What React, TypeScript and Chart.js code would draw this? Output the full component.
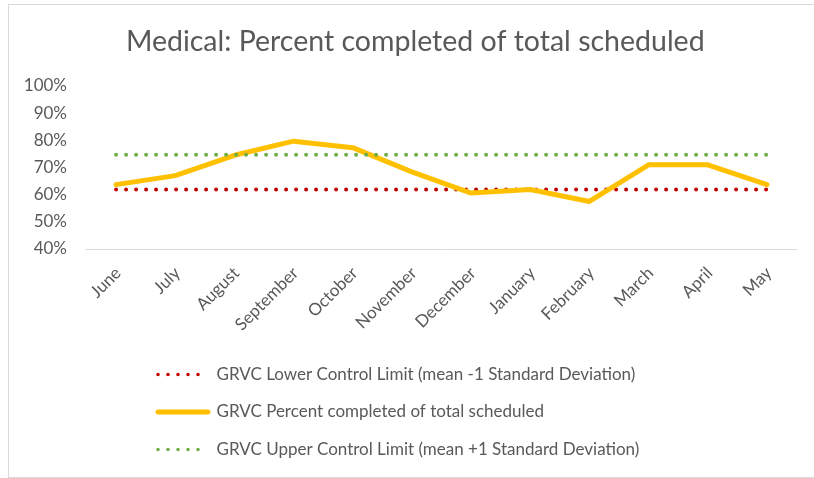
import React, { useEffect, useRef } from "react";
import { Chart, registerables } from "chart.js";

Chart.register(...registerables);

const months = ["June", "July", "August", "September", "October", "November", "December", "January", "February", "March", "April", "May"];
const percentCompleted = [63.7, 67, 74.5, 79.7, 77.3, 68.4, 60.6, 61.9, 57.5, 71, 71, 63.7];
const lowerLimit = [61.9, 61.9, 61.9, 61.9, 61.9, 61.9, 61.9, 61.9, 61.9, 61.9, 61.9, 61.9];
const upperLimit = [74.7, 74.7, 74.7, 74.7, 74.7, 74.7, 74.7, 74.7, 74.7, 74.7, 74.7, 74.7];
const seriesLabels = [
  "GRVC Lower Control Limit (mean -1 Standard Deviation)",
  "GRVC Percent completed of total scheduled",
  "GRVC Upper Control Limit (mean +1 Standard Deviation)",
];
const titleText = "Medical: Percent completed of total scheduled";
const yMin = 40;
const yMax = 100;
const yStep = 10;

const TEXT = "#595959";
const LEGEND_PAD = 20.5;
const LEGEND_X = 158;
const TITLE_SHIFT = 13;

const layoutShift = {
  id: "layoutShift",
  afterLayout(chart: any) {
    if (chart.legend) {
      chart.legend.left = LEGEND_X - LEGEND_PAD;
    }
    if (chart.titleBlock) {
      chart.titleBlock.left += TITLE_SHIFT;
      chart.titleBlock.right += TITLE_SHIFT;
    }
  },
};

export default function App() {
  const ref = useRef<HTMLCanvasElement | null>(null);

  useEffect(() => {
    if (!ref.current) return;
    const chart = new Chart(ref.current, {
      type: "line",
      data: {
        labels: months,
        datasets: [
          {
            label: seriesLabels[0],
            data: lowerLimit,
            borderColor: "#C00000",
            backgroundColor: "#C00000",
            borderWidth: 4,
            borderDash: [0, 10],
            borderCapStyle: "round",
            pointRadius: 0,
            order: 2,
          },
          {
            label: seriesLabels[1],
            data: percentCompleted,
            borderColor: "#FFC000",
            backgroundColor: "#FFC000",
            borderWidth: 5,
            borderCapStyle: "round",
            borderJoinStyle: "round",
            pointRadius: 0,
            order: 1,
          },
          {
            label: seriesLabels[2],
            data: upperLimit,
            borderColor: "#70AD47",
            backgroundColor: "#70AD47",
            borderWidth: 4,
            borderDash: [0, 10],
            borderCapStyle: "round",
            pointRadius: 0,
            order: 0,
          },
        ],
      },
      options: {
        animation: false,
        responsive: true,
        maintainAspectRatio: false,
        layout: { padding: { left: 8, right: 17.5, top: 0, bottom: 10 } },
        font: { family: "Lato" },
        plugins: {
          title: {
            display: true,
            text: titleText,
            color: TEXT,
            font: { family: "Lato", size: 28.5, weight: "normal", lineHeight: 1.2 },
            padding: { top: 24.9, bottom: 26.9 },
          },
          legend: {
            display: true,
            position: "bottom",
            align: "start",
            labels: {
              color: TEXT,
              font: { family: "Lato", size: 17 },
              padding: LEGEND_PAD,
              usePointStyle: true,
              pointStyleWidth: 50,
              generateLabels: (c: any) =>
                c.data.datasets.map((ds: any, i: number) => ({
                  text: ds.label,
                  fillStyle: "rgba(0,0,0,0)",
                  strokeStyle: ds.borderColor,
                  lineWidth: i === 1 ? 5 : 3.6,
                  lineDash: ds.borderDash || [],
                  lineCap: "round",
                  pointStyle: "line",
                  fontColor: TEXT,
                  hidden: false,
                  datasetIndex: i,
                })),
            },
          },
          tooltip: { enabled: false },
        },
        scales: {
          x: {
            type: "category",
            offset: true,
            grid: { display: false, drawTicks: false },
            border: { display: true, color: "#d9d9d9", width: 1 },
            ticks: {
              color: TEXT,
              font: { family: "Lato", size: 17 },
              minRotation: 45,
              maxRotation: 45,
              autoSkip: false,
              padding: 14,
              labelOffset: 2,
            },
            afterFit: (s: any) => {
              s.height = 96.5;
            },
          },
          y: {
            min: yMin,
            max: yMax,
            grid: { display: false, drawTicks: false },
            border: { display: false },
            ticks: {
              stepSize: yStep,
              color: TEXT,
              font: { family: "Lato", size: 17 },
              padding: 19.5,
              callback: (v: any) => `${v}%`,
            },
            afterFit: (s: any) => {
              s.width = 78.5;
            },
          },
        },
      },
      plugins: [layoutShift],
    } as any);
    return () => chart.destroy();
  }, []);

  return (
    <>
      <div style={{ position: "fixed", left: 0, top: 0, width: 814, height: 478, background: "#fff" }}>
        <canvas ref={ref} style={{ display: "block" }} />
      </div>
      <div
        style={{
          position: "fixed",
          left: 8,
          top: 4,
          width: 840,
          height: 474,
          boxSizing: "border-box",
          border: "1px solid #d9d9d9",
          pointerEvents: "none",
        }}
      />
    </>
  );
}
